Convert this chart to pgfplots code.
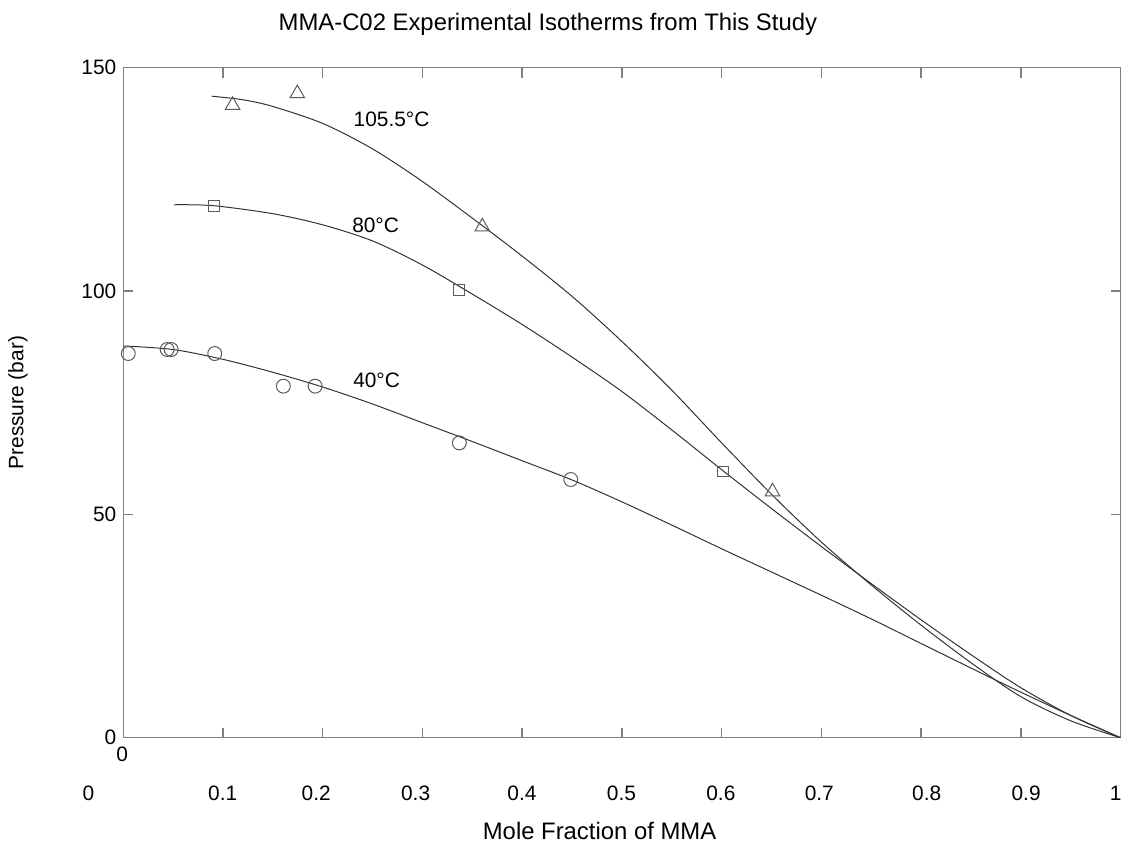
\documentclass[border=0pt]{standalone}
\usepackage{pgfplots}
\pgfplotsset{compat=1.18}
\usepackage{fontspec}
\setmainfont{Liberation Sans}
\usetikzlibrary{calc}
\definecolor{axgray}{RGB}{128,128,128}
\definecolor{curve}{RGB}{50,50,50}
\definecolor{mk}{RGB}{90,90,90}

\begin{document}
\begin{tikzpicture}[font=\fontsize{10.5}{12}\selectfont]
\begin{axis}[
    name=ax,
    scale only axis,
    width=501.5pt, height=337pt,
    xmin=0, xmax=1, ymin=0, ymax=150,
    axis line style={axgray, line width=0.75pt},
    xtick={0.1,0.2,0.3,0.4,0.5,0.6,0.7,0.8,0.9},
    xticklabels={},
    ytick={0,50,100,150},
    tick align=inside,
    major tick length=5pt,
    tick style={axgray, line width=0.75pt},
    /pgf/number format/assume math mode=true,
    yticklabel style={font=\fontsize{10.5}{12}\selectfont},
]
% 105.5 C fitted curve
\addplot[curve, line width=0.5pt, smooth] coordinates {
  (0.0887,143.6) (0.12,142.8) (0.15,141.3) (0.2,137.5) (0.25,131.8)
  (0.3,124.5) (0.35,116.3) (0.4,107.8) (0.45,98.8) (0.5,88.7) (0.55,77.8)
  (0.6,66.0) (0.65,54.5) (0.7,43.8) (0.75,34.2) (0.8,25.2) (0.85,16.8)
  (0.9,9.2) (0.95,3.8) (1,0)
};
% 80 C fitted curve
\addplot[curve, line width=0.5pt, smooth] coordinates {
  (0.0508,119.3) (0.09,119.1) (0.15,117.3) (0.2,114.8) (0.25,111.2)
  (0.3,105.8) (0.35,99.3) (0.4,92.5) (0.45,85.2) (0.5,77.5) (0.55,68.9)
  (0.6,60.0) (0.65,51.3) (0.7,42.8) (0.75,34.5) (0.8,26.4) (0.85,18.6)
  (0.9,11.2) (0.95,5.0) (1,0)
};
% 40 C fitted curve
\addplot[curve, line width=0.5pt, smooth] coordinates {
  (0,87.7) (0.05,86.9) (0.1,84.7) (0.15,81.8) (0.2,78.5) (0.25,74.7)
  (0.3,70.5) (0.35,66.3) (0.4,62.0) (0.45,57.7) (0.5,52.8) (0.55,47.6)
  (0.6,42.3) (0.65,37.1) (0.7,31.9) (0.75,26.6) (0.8,21.1) (0.85,15.6)
  (0.9,10.2) (0.95,5.0) (1,0)
};
% measured points
\addplot[only marks, mark=triangle, mark size=4.2pt, mk, line width=0.5pt] coordinates {
  (0.1096,141.6) (0.1745,144.2) (0.36,114.4) (0.651,55.1)
};
\addplot[only marks, mark=square, mark size=2.75pt, mk, line width=0.5pt] coordinates {
  (0.0907,119.1) (0.337,100.2) (0.601,59.6)
};
\addplot[only marks, mark=o, mark size=3.5pt, mk, line width=0.5pt] coordinates {
  (0.005,86.0) (0.044,86.9) (0.048,86.9) (0.0917,86.0) (0.1605,78.7)
  (0.1924,78.7) (0.337,66.0) (0.4487,57.8)
};
\node at (axis cs:0.269,138.4) {105.5°C};
\node at (axis cs:0.253,114.7) {80°C};
\node at (axis cs:0.254,80.0) {40°C};
\end{axis}

% tick labels sit on their own row below the frame
\foreach \d/\l in {-17.5/0, 50/0.1, 97/0.2, 147/0.3, 200.5/0.4, 250.5/0.5,
                   300.5/0.6, 350/0.7, 404/0.8, 454/0.9, 499/1}
  \node at ($(ax.south west)+(\d pt,-28pt)$) {\l};
\node at ($(ax.south west)+(-0.5pt,-8.5pt)$) {0};

\node[font=\fontsize{12}{14}\selectfont] at ($(ax.north west)+(213.5pt,22pt)$) {MMA-C02 Experimental Isotherms from This Study};
\node[font=\fontsize{12}{14}\selectfont] at ($(ax.south west)+(239.5pt,-47pt)$) {Mole Fraction of MMA};
\node[rotate=90] at ($(ax.south west)+(-53pt,168.5pt)$) {Pressure (bar)};

\path ($(ax.south west)+(-62pt,-53pt)$) rectangle ($(ax.north east)+(0.5pt,34pt)$);
\end{tikzpicture}
\end{document}
